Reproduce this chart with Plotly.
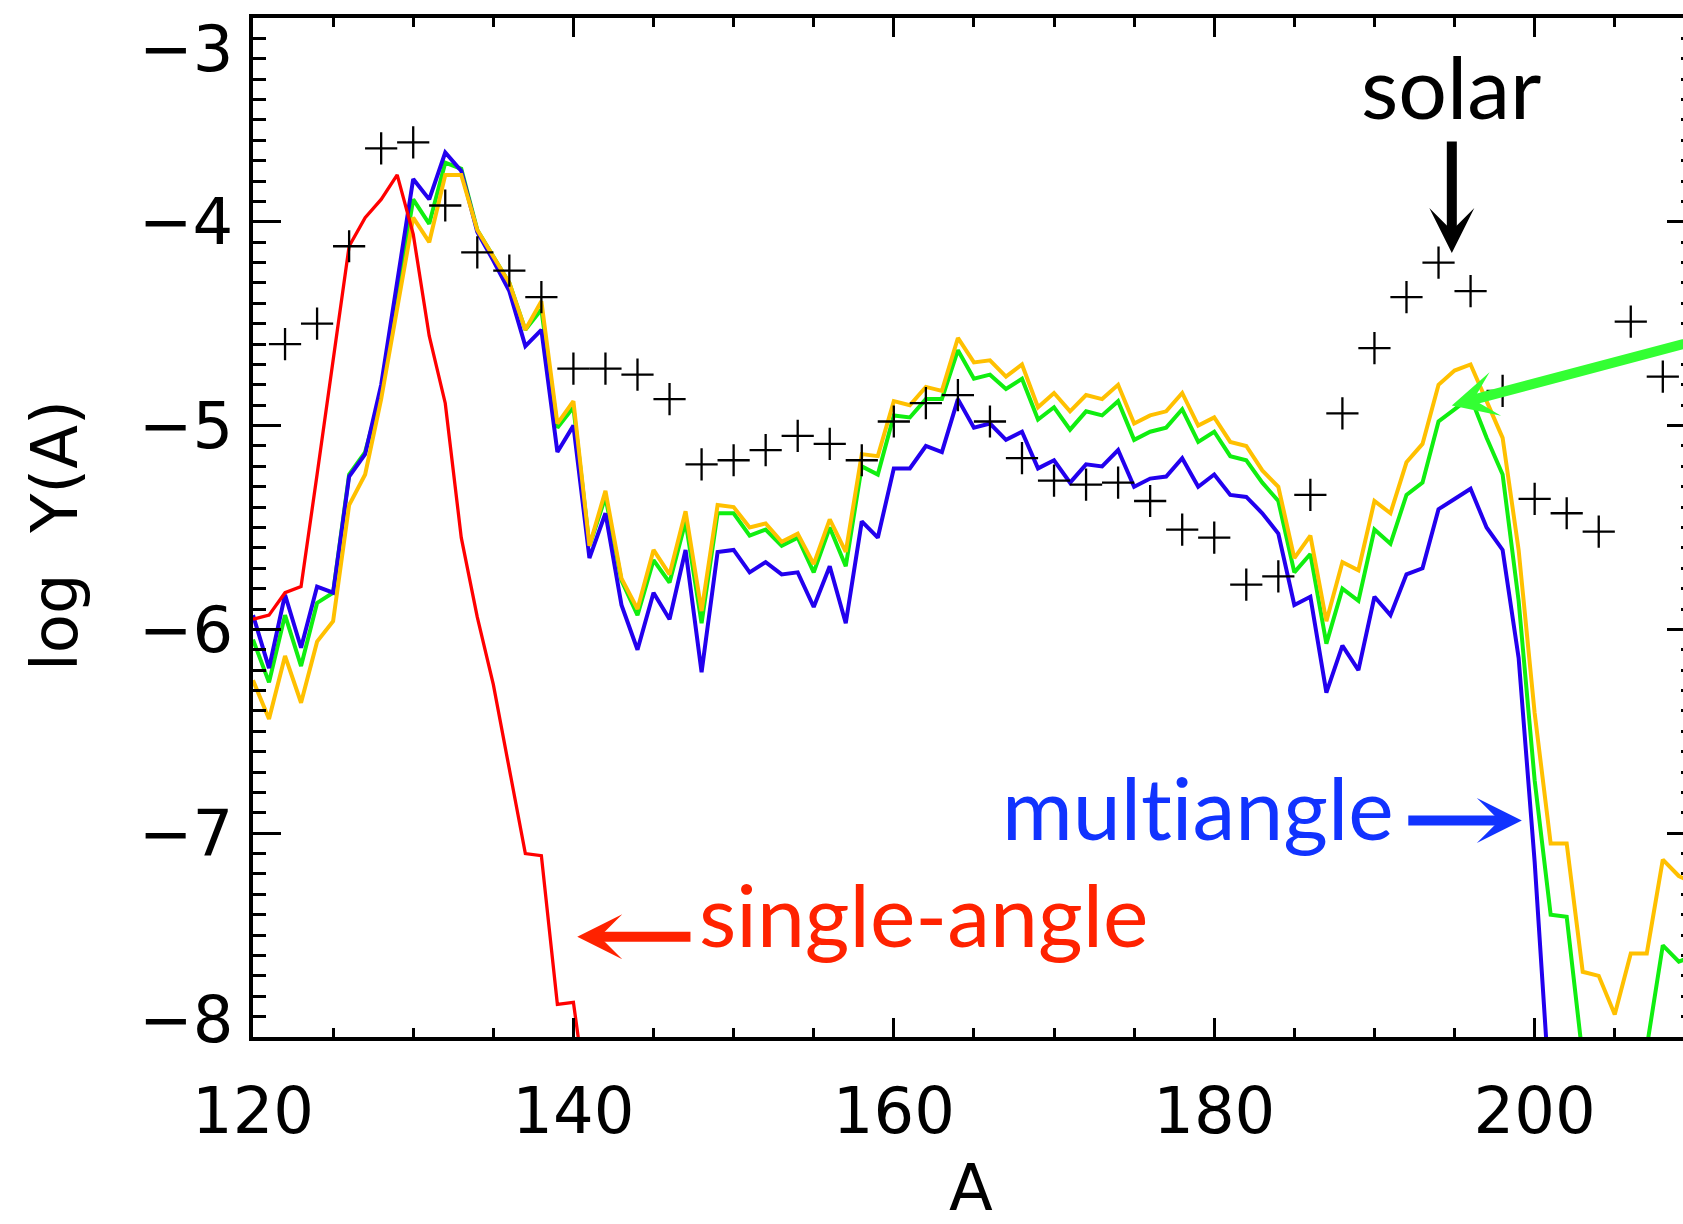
import plotly.graph_objects as go

# Mass number grid for the model yield curves
A_red = list(range(120, 142))
A_blue = list(range(120, 203))
A_full = list(range(120, 211))

# single-angle model
logY_single = [-5.95, -5.93, -5.82, -5.79, -5.24, -4.68, -4.12, -3.98, -3.89, -3.77,
               -4.06, -4.56, -4.89, -5.55, -5.94, -6.27, -6.68, -7.10, -7.11, -7.84,
               -7.83, -8.40]

# multiangle model
logY_multi = [-5.93, -6.19, -5.83, -6.09, -5.79, -5.82, -5.25, -5.14, -4.80, -4.30,
              -3.79, -3.89, -3.66, -3.75, -4.05, -4.19, -4.34, -4.61, -4.53, -5.13,
              -5.00, -5.65, -5.43, -5.88, -6.10, -5.82, -5.95, -5.61, -6.21, -5.62,
              -5.61, -5.72, -5.67, -5.73, -5.72, -5.89, -5.69, -5.97, -5.47, -5.55,
              -5.21, -5.21, -5.10, -5.13, -4.87, -5.01, -4.99, -5.07, -5.03, -5.21,
              -5.17, -5.28, -5.19, -5.20, -5.12, -5.30, -5.26, -5.25, -5.16, -5.30,
              -5.24, -5.34, -5.35, -5.43, -5.53, -5.88, -5.84, -6.31, -6.08, -6.20,
              -5.84, -5.93, -5.73, -5.70, -5.41, -5.36, -5.31, -5.50, -5.61, -6.14,
              -7.14, -8.35, -8.90]

# green model
logY_green = [-6.05, -6.26, -5.93, -6.18, -5.87, -5.82, -5.24, -5.13, -4.84, -4.35,
              -3.89, -4.01, -3.71, -3.74, -4.04, -4.17, -4.30, -4.53, -4.43, -5.01,
              -4.91, -5.59, -5.35, -5.76, -5.93, -5.66, -5.77, -5.47, -5.97, -5.43,
              -5.43, -5.54, -5.51, -5.59, -5.55, -5.72, -5.50, -5.69, -5.20, -5.24,
              -4.95, -4.96, -4.87, -4.87, -4.63, -4.77, -4.75, -4.82, -4.77, -4.97,
              -4.91, -5.02, -4.93, -4.95, -4.88, -5.07, -5.03, -5.01, -4.92, -5.08,
              -5.03, -5.15, -5.17, -5.28, -5.37, -5.72, -5.63, -6.07, -5.80, -5.86,
              -5.51, -5.58, -5.34, -5.28, -4.98, -4.92, -4.86, -5.06, -5.24, -5.86,
              -6.74, -7.40, -7.41, -8.10, -8.30, -8.40, -8.30, -8.05, -7.55, -7.63,
              -7.60]

# orange model
logY_orange = [-6.25, -6.44, -6.13, -6.36, -6.06, -5.96, -5.39, -5.24, -4.87, -4.42,
               -3.98, -4.10, -3.77, -3.77, -4.04, -4.17, -4.30, -4.53, -4.39, -4.99,
               -4.88, -5.59, -5.32, -5.75, -5.90, -5.61, -5.73, -5.42, -5.91, -5.39,
               -5.40, -5.50, -5.48, -5.57, -5.53, -5.68, -5.46, -5.62, -5.14, -5.15,
               -4.88, -4.90, -4.81, -4.83, -4.57, -4.69, -4.68, -4.76, -4.70, -4.91,
               -4.84, -4.93, -4.85, -4.87, -4.80, -4.99, -4.95, -4.93, -4.84, -5.00,
               -4.96, -5.08, -5.10, -5.22, -5.30, -5.65, -5.54, -5.96, -5.67, -5.71,
               -5.37, -5.43, -5.18, -5.09, -4.80, -4.73, -4.70, -4.88, -5.06, -5.61,
               -6.41, -7.05, -7.05, -7.68, -7.70, -7.89, -7.59, -7.59, -7.13, -7.21,
               -7.25]

# solar abundances (even A)
A_solar = list(range(122, 209, 2))
logY_solar = [-4.60, -4.50, -4.12, -3.64, -3.61, -3.92, -4.15, -4.24, -4.37, -4.72,
              -4.72, -4.75, -4.87, -5.19, -5.17, -5.12, -5.05, -5.09, -5.17, -4.98,
              -4.89, -4.85, -4.98, -5.16, -5.27, -5.29, -5.28, -5.37, -5.51, -5.55,
              -5.78, -5.74, -5.34, -4.94, -4.62, -4.37, -4.20, -4.34, -4.83, -5.36,
              -5.43, -5.52, -4.49, -4.76]

x_ticks = [120, 140, 160, 180, 200]
y_ticks = [-8, -7, -6, -5, -4, -3]
# end labels of the y axis are set slightly inside the frame
y_ticktext = ["", "\u22127", "\u22126", "\u22125", "\u22124", ""]

TICK_FONT = dict(family="DejaVu Sans", size=64, color="black")
LABEL_FONT = "Lato"
LABEL_SIZE = 86

fig = go.Figure()

line_w = 4
fig.add_trace(go.Scatter(x=A_full, y=logY_green, mode="lines",
                         line=dict(color="#10ee10", width=line_w), hoverinfo="skip"))
fig.add_trace(go.Scatter(x=A_blue, y=logY_multi, mode="lines",
                         line=dict(color="#2200ee", width=line_w), hoverinfo="skip"))
fig.add_trace(go.Scatter(x=A_full, y=logY_orange, mode="lines",
                         line=dict(color="#ffc000", width=line_w), hoverinfo="skip"))
fig.add_trace(go.Scatter(x=A_red, y=logY_single, mode="lines",
                         line=dict(color="#ff0000", width=3.3), hoverinfo="skip"))
fig.add_trace(go.Scatter(x=A_solar, y=logY_solar, mode="markers",
                         marker=dict(symbol="cross-thin", size=23,
                                     line=dict(color="black", width=2.3)),
                         hoverinfo="skip"))
# carrier for the right-hand tick axis
fig.add_trace(go.Scatter(x=[], y=[], yaxis="y2", mode="lines", hoverinfo="skip"))

annotations = [
    # text labels
    dict(text="solar", x=194.75, y=-3.329, xref="x", yref="y", showarrow=False,
         font=dict(family=LABEL_FONT, size=LABEL_SIZE, color="black"),
         xanchor="center", yanchor="middle"),
    dict(text="mult\u200ciangle", x=178.97, y=-6.871, xref="x", yref="y",
         showarrow=False,
         font=dict(family=LABEL_FONT, size=LABEL_SIZE, color="#1133ff"),
         xanchor="center", yanchor="middle"),
    dict(text="single-angle", x=161.85, y=-7.392, xref="x", yref="y", showarrow=False,
         font=dict(family=LABEL_FONT, size=LABEL_SIZE, color="#ff2200"),
         xanchor="center", yanchor="middle"),
    # arrows
    dict(text="", x=194.83, y=-4.153, ax=194.83, ay=-3.599, xref="x", yref="y",
         axref="x", ayref="y", showarrow=True, arrowhead=3, arrowsize=0.75,
         arrowwidth=10, arrowcolor="black", standoff=0),
    dict(text="", x=199.2, y=-6.938, ax=192.02, ay=-6.938, xref="x", yref="y",
         axref="x", ayref="y", showarrow=True, arrowhead=3, arrowsize=0.75,
         arrowwidth=10, arrowcolor="#1133ff", standoff=0),
    dict(text="", x=140.24, y=-7.508, ax=147.4, ay=-7.508, xref="x", yref="y",
         axref="x", ayref="y", showarrow=True, arrowhead=3, arrowsize=0.75,
         arrowwidth=10, arrowcolor="#ff2200", standoff=0),
    dict(text="", x=194.83, y=-4.901, ax=214.07, ay=-4.500, xref="x", yref="y",
         axref="x", ayref="y", showarrow=True, arrowhead=3, arrowsize=0.75,
         arrowwidth=10, arrowcolor="#33ff33", standoff=0),
    # y-axis end labels
    dict(text="\u22123", x=-0.0126, y=0.9696, xref="paper", yref="paper",
         showarrow=False, font=TICK_FONT, xanchor="right", yanchor="middle"),
    dict(text="\u22128", x=-0.0126, y=0.0167, xref="paper", yref="paper",
         showarrow=False, font=TICK_FONT, xanchor="right", yanchor="middle"),
    # axis titles
    dict(text="A", x=0.502, y=-0.148, xref="paper", yref="paper", showarrow=False,
         font=TICK_FONT, xanchor="center", yanchor="middle"),
    dict(text="log  Y(A)", x=-0.1385, y=0.4926, xref="paper", yref="paper",
         showarrow=False, textangle=-90, font=TICK_FONT,
         xanchor="center", yanchor="middle"),
]

fig.update_layout(
    width=1683, height=1224,
    margin=dict(l=253, r=0, t=18, b=187, pad=0),
    paper_bgcolor="white", plot_bgcolor="white",
    showlegend=False,
    annotations=annotations,
    xaxis=dict(
        range=[120, 209.26], tickvals=x_ticks, ticktext=[str(v) for v in x_ticks],
        ticks="inside", ticklen=19, tickwidth=3, tickcolor="black",
        minor=dict(dtick=5, tick0=120, ticks="inside", ticklen=9, tickwidth=3,
                   tickcolor="black", showgrid=False),
        showline=True, linewidth=4, linecolor="black", mirror="ticks",
        showgrid=False, zeroline=False, tickfont=TICK_FONT,
        ticklabelstandoff=15,
    ),
    yaxis=dict(
        range=[-8, -3], tickvals=y_ticks, ticktext=y_ticktext,
        ticks="inside", ticklen=28, tickwidth=3, tickcolor="black",
        minor=dict(dtick=0.1, tick0=-8, ticks="inside", ticklen=13, tickwidth=3,
                   tickcolor="black", showgrid=False),
        showline=True, linewidth=4, linecolor="black", mirror=False,
        showgrid=False, zeroline=False, tickfont=TICK_FONT,
        ticklabelstandoff=3,
    ),
    yaxis2=dict(
        overlaying="y", side="right", matches="y", range=[-8, -3],
        tickvals=y_ticks, showticklabels=False,
        ticks="inside", ticklen=16, tickwidth=3, tickcolor="black",
        minor=dict(dtick=0.1, tick0=-8, ticks="inside", ticklen=2, tickwidth=3,
                   tickcolor="black", showgrid=False),
        showline=False, showgrid=False, zeroline=False,
    ),
)

fig.write_html("out.html")
